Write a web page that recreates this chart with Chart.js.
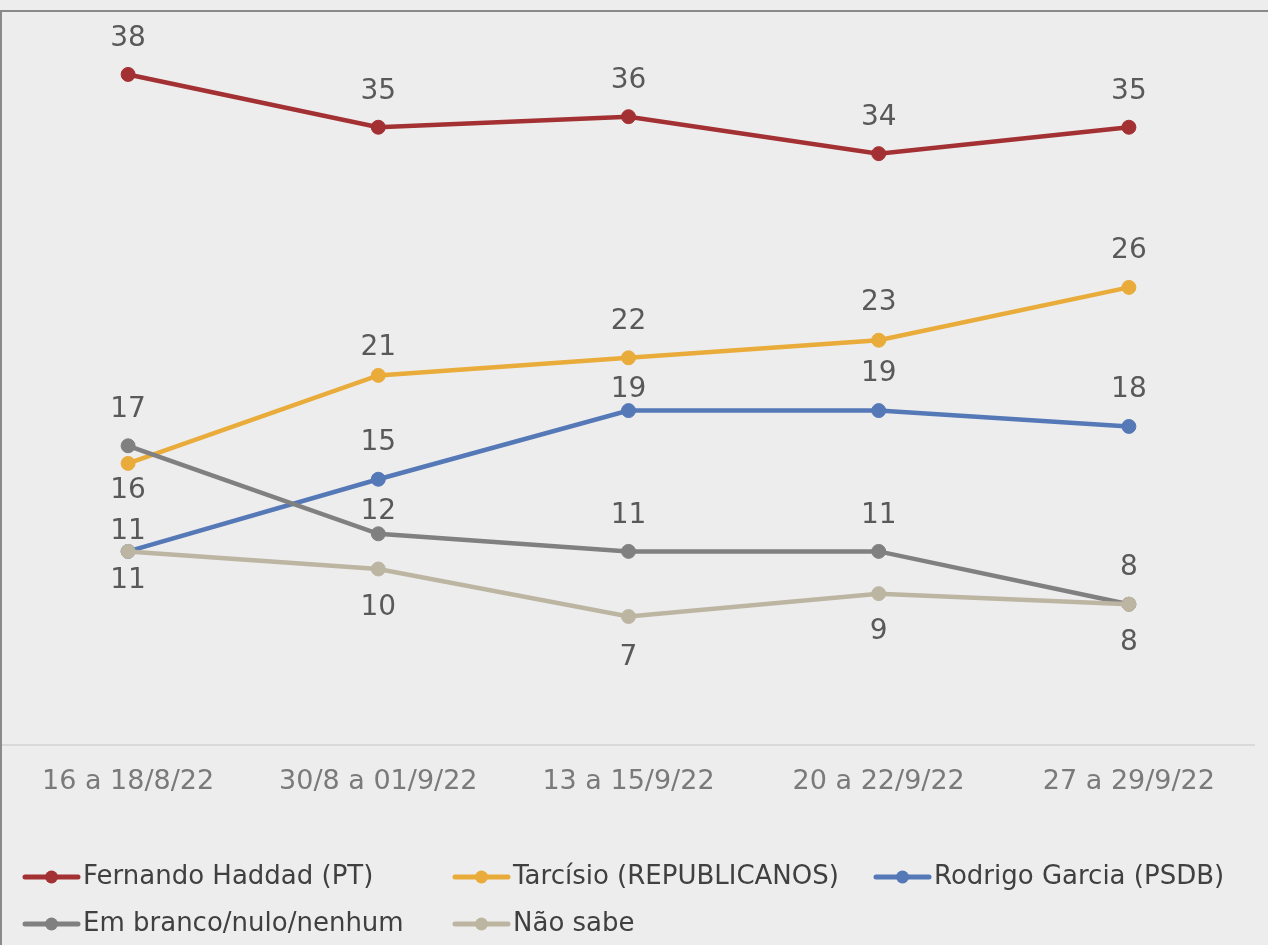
<!DOCTYPE html>
<html><head><meta charset="utf-8">
<script src="https://cdn.jsdelivr.net/npm/chart.js@4.4.0/dist/chart.umd.min.js"></script>
<style>
html,body{margin:0;padding:0;background:#ededed;}
#wrap{position:relative;width:1268px;height:945px;overflow:hidden;background:#ededed}
#frame{position:absolute;left:0;top:10px;width:1400px;height:1000px;border-top:2px solid #8a8a8a;border-left:2px solid #8a8a8a;box-sizing:border-box;pointer-events:none}
canvas{position:absolute;left:0;top:0}
</style></head><body>
<div id="wrap"><canvas id="c" width="1268" height="945"></canvas><div id="frame"></div></div>
<script>
// ---- data ----
const categories = ['16 a 18/8/22', '30/8 a 01/9/22', '13 a 15/9/22', '20 a 22/9/22', '27 a 29/9/22'];
const seriesNames = ['Fernando Haddad (PT)', 'Tarcísio (REPUBLICANOS)', 'Rodrigo Garcia (PSDB)', 'Em branco/nulo/nenhum', 'Não sabe'];
const haddad   = [38.1, 35.1, 35.7, 33.6, 35.1];
const tarcisio = [16.0, 21.0, 22.0, 23.0, 26.0];
const rodrigo  = [11.0, 15.1, 19.0, 19.0, 18.1];
const branco   = [17.0, 12.0, 11.0, 11.0, 8.0];
const naoSabe  = [11.0, 10.0, 7.3, 8.6, 8.0];
const haddadLabels   = [38, 35, 36, 34, 35];
const tarcisioLabels = [16, 21, 22, 23, 26];
const rodrigoLabels  = [11, 15, 19, 19, 18];
const brancoLabels   = [17, 12, 11, 11, 8];
const naoSabeLabels  = [11, 10, 7, 9, 8];

const FONT = "'DejaVu Sans', sans-serif";

function mk(i, data, labels, color, order, dy){
  return {
    label: seriesNames[i], data, valueLabels: labels, labelDy: dy,
    borderColor: color, backgroundColor: color,
    pointBackgroundColor: color, pointBorderColor: color,
    borderWidth: 4.5, pointRadius: 7, pointHoverRadius: 7, pointBorderWidth: 1,
    tension: 0, order, clip: false
  };
}

const labelPlugin = {
  id: 'vlabels',
  afterDatasetsDraw(chart){
    const ctx = chart.ctx;
    chart.data.datasets.forEach((ds, i) => {
      const meta = chart.getDatasetMeta(i);
      meta.data.forEach((pt, j) => {
        ctx.save();
        ctx.font = "28px " + FONT;
        ctx.fillStyle = '#595959';
        ctx.textAlign = 'center';
        ctx.textBaseline = 'middle';
        ctx.fillText(String(ds.valueLabels[j]), pt.x, pt.y + ds.labelDy[j]);
        ctx.restore();
      });
    });
  }
};

const legendPlugin = {
  id: 'gridLegend',
  afterDraw(chart){
    const ctx = chart.ctx;
    const cols = [25, 455, 876];
    const rows = [877, 924];
    chart.data.datasets.forEach((ds, k) => {
      const x = cols[k % 3], y = rows[Math.floor(k / 3)];
      ctx.save();
      ctx.strokeStyle = ds.borderColor; ctx.lineWidth = 5; ctx.lineCap = 'round';
      ctx.beginPath(); ctx.moveTo(x, y); ctx.lineTo(x + 53, y); ctx.stroke();
      ctx.fillStyle = ds.borderColor;
      ctx.beginPath(); ctx.arc(x + 26.5, y, 6.5, 0, Math.PI * 2); ctx.fill();
      ctx.font = "26px " + FONT;
      ctx.fillStyle = '#404040';
      ctx.textAlign = 'left'; ctx.textBaseline = 'middle';
      ctx.fillText(ds.label, x + 58, y);
      ctx.restore();
    });
  }
};

new Chart(document.getElementById('c'), {
  type: 'line',
  data: {
    labels: categories,
    datasets: [
      mk(0, haddad, haddadLabels, '#a33033', 5, [-36,-36,-36,-36,-36]),
      mk(1, tarcisio, tarcisioLabels, '#e9ab3a', 4, [27,-28,-36,-37,-37]),
      mk(2, rodrigo, rodrigoLabels, '#5578b7', 3, [-20,-37,-21,-37,-37]),
      mk(3, branco, brancoLabels, '#808080', 2, [-36,-22,-36,-36,-36]),
      mk(4, naoSabe, naoSabeLabels, '#bcb5a2', 1, [29,39,41,38,39])
    ]
  },
  options: {
    responsive: false,
    animation: false,
    events: [],
    layout: { autoPadding: false, padding: { top: 41, left: 3, right: 14, bottom: 0 } },
    plugins: { legend: { display: false }, tooltip: { enabled: false } },
    scales: {
      y: { display: false, min: 0, max: 40 },
      x: {
        offset: true,
        grid: { display: false, drawTicks: false },
        border: { display: true, color: '#d9d9d9', width: 2 },
        ticks: { color: '#7a7a7a', font: { family: FONT, size: 27 }, padding: 21, maxRotation: 0, autoSkip: false },
        afterFit(s){ s.height = 200; s.paddingLeft = 0; s.paddingRight = 0; }
      }
    }
  },
  plugins: [labelPlugin, legendPlugin]
});
</script>
</body></html>
